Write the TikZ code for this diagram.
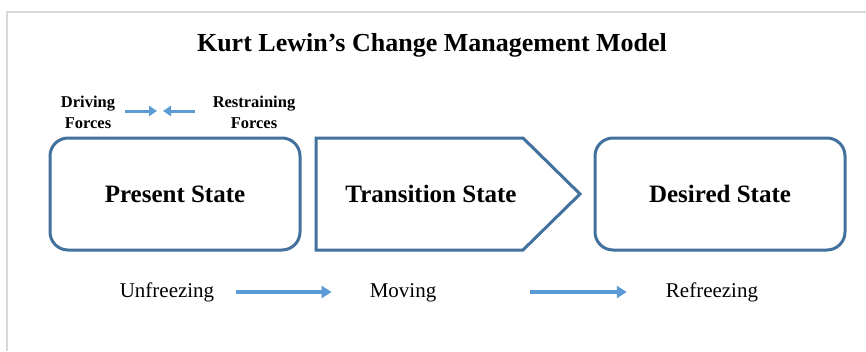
\documentclass[tikz,border=0pt]{standalone}
\usepackage{fontspec}
\setmainfont{Liberation Serif}
\usetikzlibrary{arrows.meta,calc}
\definecolor{boxblue}{HTML}{41719C}
\definecolor{arrowblue}{HTML}{5B9BD5}
\definecolor{framegray}{HTML}{D9D9D9}
\tikzset{
  statebox/.style={draw=boxblue, line width=3pt, rounded corners=18pt,
    minimum width=250pt, minimum height=112pt, inner sep=0pt,
    font=\fontsize{25}{28}\selectfont\bfseries},
  statetext/.style={font=\fontsize{25}{28}\selectfont\bfseries, inner sep=0pt},
  phase/.style={font=\fontsize{21}{24}\selectfont, inner sep=0pt, anchor=base},
  force/.style={font=\fontsize{16.5}{21}\selectfont\bfseries, align=center, inner sep=0pt},
  flow/.style={draw=arrowblue, line width=3.5pt, -{Triangle[length=10pt,width=12pt]}},
  pull/.style={draw=arrowblue, line width=3pt, -{Triangle[length=8pt,width=10pt]}},
}
\begin{document}
\begin{tikzpicture}[x=1pt,y=-1pt]
\useasboundingbox (0,0) rectangle (866,351);
\fill[white] (0,0) rectangle (866,351);
% page frame
\draw[framegray, line width=1.2pt] (7,351) -- (7,12) -- (866,12);

% title
\node[font=\fontsize{26}{30}\selectfont\bfseries, inner sep=0pt] (title) at (432,45) {Kurt Lewin’s Change Management Model};

% forces
\node[force] (drv) at (88,112) {Driving\\Forces};
\node[force] (rst) at (254,112) {Restraining\\Forces};
\coordinate (meet) at (160,111);
\draw[pull] (drv.east |- meet) ++(10,0) -- ($(meet)+(-3,0)$);
\draw[pull] (rst.west |- meet) ++(-18,0) -- ($(meet)+(3,0)$);

% states
\node[statebox] (present) at (175,194) {Present State};
\draw[boxblue, line width=3pt, line join=miter]
  (316,138) -- (523,138) -- (580,194) -- (523,250) -- (316,250) -- cycle;
\node[statetext] (trans) at (431,194) {Transition State};
\node[statebox] (desired) at (720,194) {Desired State};

% phases
\node[phase] (unf) at (167,297) {Unfreezing};
\node[phase] (mov) at (403,297) {Moving};
\node[phase] (ref) at (712,297) {Refreezing};
\draw[flow] ($(unf.base east)+(22,-5)$) -- ($(mov.base west)+(-38,-5)$);
\draw[flow] ($(mov.base east)+(94,-5)$) -- ($(ref.base west)+(-39,-5)$);
\end{tikzpicture}
\end{document}
